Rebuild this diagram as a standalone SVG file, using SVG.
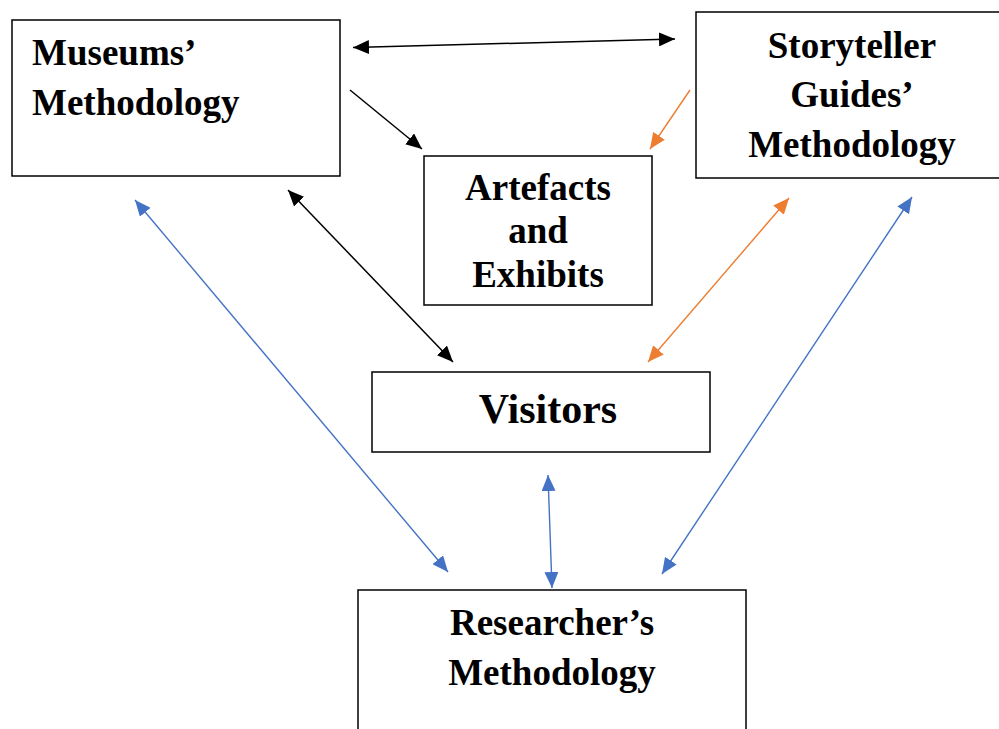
<svg xmlns="http://www.w3.org/2000/svg" width="999" height="729" viewBox="0 0 999 729">
<style>
.box{fill:#fff;stroke:#000;stroke-width:1.5}
.t{font-family:"Liberation Serif","Times New Roman",serif;font-weight:bold;font-size:37px;fill:#000}
.k{stroke:#000;stroke-width:1.5;fill:none}
.o{stroke:#ED7D31;stroke-width:1.4;fill:none}
.b{stroke:#4472C4;stroke-width:1.4;fill:none}
</style>
<defs>
<marker id="mk" viewBox="0 0 16 14" refX="16" refY="7" markerWidth="16" markerHeight="14" markerUnits="userSpaceOnUse" orient="auto-start-reverse"><path d="M0,0 L16,7 L0,14 z" fill="#000"/></marker>
<marker id="mo" viewBox="0 0 16 14" refX="16" refY="7" markerWidth="16" markerHeight="14" markerUnits="userSpaceOnUse" orient="auto-start-reverse"><path d="M0,0 L16,7 L0,14 z" fill="#ED7D31"/></marker>
<marker id="mb" viewBox="0 0 16 14" refX="16" refY="7" markerWidth="16" markerHeight="14" markerUnits="userSpaceOnUse" orient="auto-start-reverse"><path d="M0,0 L16,7 L0,14 z" fill="#4472C4"/></marker>
</defs>
<rect width="999" height="729" fill="#fff"/>
<g id="museums">
<rect class="box" x="12" y="20" width="328" height="156"/>
<text class="t" x="32" y="65">Museums’</text>
<text class="t" x="32" y="115">Methodology</text>
</g>
<g id="storyteller">
<rect class="box" x="696" y="12" width="306" height="166"/>
<text class="t" x="852" y="58" text-anchor="middle">Storyteller</text>
<text class="t" x="852" y="107" text-anchor="middle">Guides’</text>
<text class="t" x="852" y="157" text-anchor="middle">Methodology</text>
</g>
<g id="artefacts">
<rect class="box" x="424" y="156" width="228" height="149"/>
<text class="t" x="538" y="200" text-anchor="middle">Artefacts</text>
<text class="t" x="538" y="243" text-anchor="middle">and</text>
<text class="t" x="538" y="287" text-anchor="middle">Exhibits</text>
</g>
<g id="visitors">
<rect class="box" x="372" y="372" width="338" height="80"/>
<text class="t" x="548" y="423" text-anchor="middle" style="font-size:42px">Visitors</text>
</g>
<g id="researcher">
<rect class="box" x="358" y="590" width="388" height="145"/>
<text class="t" x="552" y="635" text-anchor="middle">Researcher’s</text>
<text class="t" x="552" y="685" text-anchor="middle">Methodology</text>
</g>
<g id="connectors">
<line class="k" x1="353" y1="47.5" x2="675" y2="39" marker-start="url(#mk)" marker-end="url(#mk)"/>
<line class="k" x1="350" y1="90" x2="422" y2="149" marker-end="url(#mk)"/>
<line class="o" x1="690" y1="90" x2="650" y2="149" marker-end="url(#mo)"/>
<line class="k" x1="288" y1="190" x2="453" y2="362" marker-start="url(#mk)" marker-end="url(#mk)"/>
<line class="o" x1="789" y1="198" x2="648" y2="362" marker-start="url(#mo)" marker-end="url(#mo)"/>
<line class="b" x1="135" y1="200" x2="448" y2="572" marker-start="url(#mb)" marker-end="url(#mb)"/>
<line class="b" x1="548" y1="475" x2="552" y2="588" marker-start="url(#mb)" marker-end="url(#mb)"/>
<line class="b" x1="912" y1="197" x2="662" y2="574" marker-start="url(#mb)" marker-end="url(#mb)"/>
</g>
</svg>
